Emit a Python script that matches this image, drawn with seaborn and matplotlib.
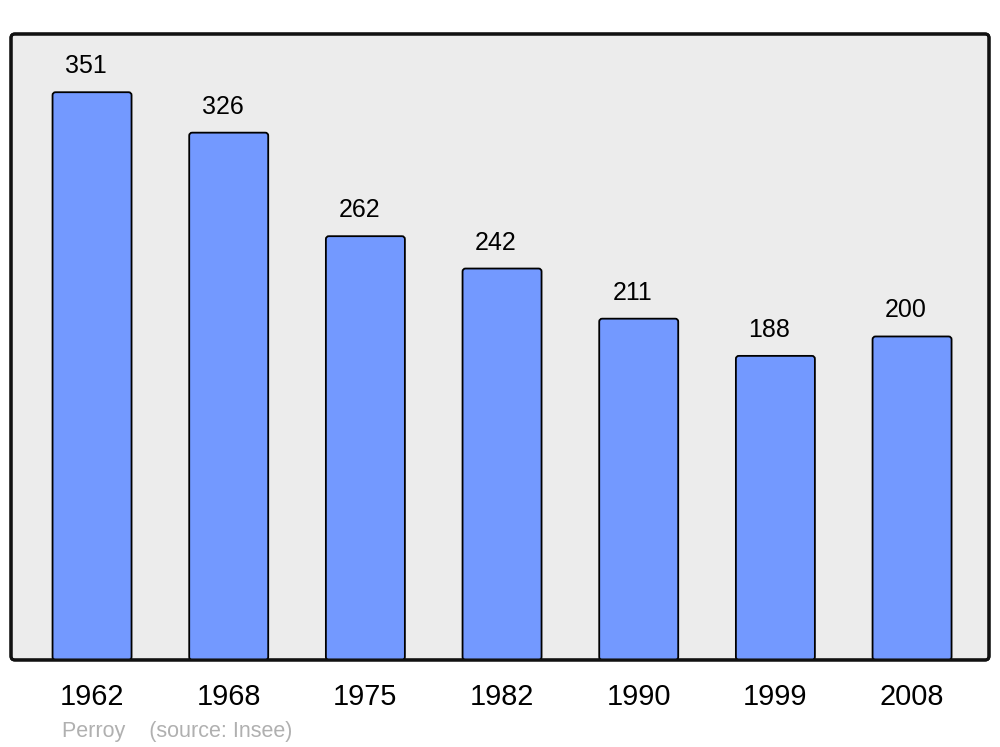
import matplotlib
matplotlib.use("Agg")
import matplotlib.pyplot as plt
from matplotlib.patches import FancyBboxPatch
import seaborn as sns
import pandas as pd

years = ["1962", "1968", "1975", "1982", "1990", "1999", "2008"]
population = [351, 326, 262, 242, 211, 188, 200]
source_text = "Perroy    (source: Insee)"

sns.set_style("white")
plt.rcParams["font.family"] = ["Liberation Sans", "DejaVu Sans"]

fig = plt.figure(figsize=(10, 7.47), dpi=100)
ax = fig.add_axes([0.011, 0.1165, 0.978, 0.838])
ax.set_facecolor("none")

df = pd.DataFrame({"year": years, "pop": population})
sns.barplot(data=df, x="year", y="pop", color="#7399ff", saturation=1,
            width=0.578, edgecolor="black", linewidth=1.3, ax=ax, zorder=3)

ax.set_xlim(-0.593, 6.563)
ax.set_ylim(0, 387)

# replace bars by slightly rounded ones
bars = list(ax.patches)
for b in bars:
    x0, y0 = b.get_x(), b.get_y()
    w, h = b.get_width(), b.get_height()
    fb = FancyBboxPatch((x0, y0), w, h,
                        boxstyle="round,pad=0,rounding_size=0.022",
                        mutation_aspect=84, facecolor=b.get_facecolor(),
                        edgecolor="black", linewidth=1.3, zorder=3)
    b.remove()
    ax.add_patch(fb)

# background frame with rounded corners
frame = FancyBboxPatch((0, 0), 1, 1, boxstyle="round,pad=0,rounding_size=0.004",
                       mutation_aspect=978 / 626, transform=ax.transAxes,
                       facecolor="#ececec", edgecolor="#111111", linewidth=2.2,
                       zorder=0, clip_on=False)
ax.add_patch(frame)
frame2 = FancyBboxPatch((0, 0), 1, 1, boxstyle="round,pad=0,rounding_size=0.004",
                        mutation_aspect=978 / 626, transform=ax.transAxes,
                        facecolor="none", edgecolor="#111111", linewidth=2.2,
                        zorder=5, clip_on=False)
ax.add_patch(frame2)

for i, v in enumerate(population):
    ax.annotate(str(v), (i, v), xytext=(-4.3, 18.7), textcoords="offset points",
                ha="center", va="center", fontsize=18, color="black", zorder=6)

for s in ax.spines.values():
    s.set_visible(False)
ax.set_yticks([])
ax.tick_params(axis="x", length=0, pad=16.5, labelsize=20.8, colors="black")
ax.set_xlabel("")
ax.set_ylabel("")

fig.text(0.062, 0.0205, source_text, fontsize=15.5, color="#b0b0b0",
         ha="left", va="center")

fig.savefig("out.png", dpi=100, facecolor="white")
